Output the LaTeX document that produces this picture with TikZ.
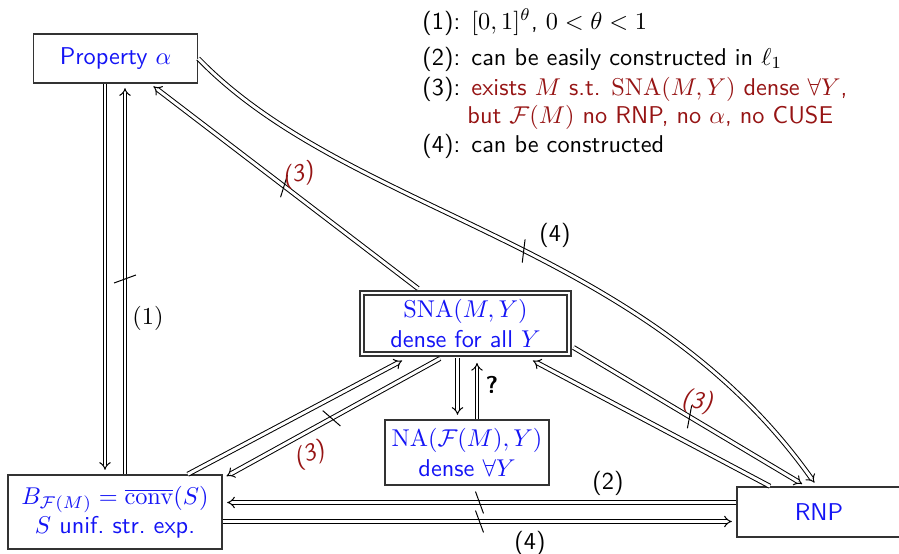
\documentclass[tikz,border=0pt]{standalone}
\renewcommand{\familydefault}{\sfdefault}
\usetikzlibrary{arrows.meta,calc,decorations.markings}
\definecolor{dred}{RGB}{150,20,20}
\definecolor{nblue}{RGB}{20,20,245}
\def\px{0.4115pt}
\begin{document}
\begin{tikzpicture}[x=0.4115pt, y=-0.4115pt,
  box/.style={draw=black!80, line width=0.58pt, text=nblue, align=center, inner sep=0pt},
  imp/.style={double, double distance=1.23pt, line width=0.41pt, -{Implies}, shorten >=1.8pt},
  notm/.style={decorate, decoration={markings, mark=at position 0.5 with {\draw[line width=0.41pt] (-1.65pt,4.5pt) -- (1.65pt,-4.5pt);}}},
  nlab/.style={text=dred, font=\sffamily\itshape},
  leg/.style={anchor=base west, inner sep=0pt}]
\useasboundingbox (0,0) rectangle (899,554);

% nodes
\node[box, minimum width=164*\px, minimum height=49*\px] (prop) at (115.5,58.5) {Property $\alpha$};
\node[box, double, line width=0.82pt, double distance=1.23pt, minimum width=207*\px, minimum height=61*\px] (sna) at (465.5,323.5) {$\mathrm{SNA}(M,Y)$\\dense for all $Y$};
\node[box, minimum width=164*\px, minimum height=65*\px] (na) at (467,452.5) {$\mathrm{NA}(\mathcal{F}(M),Y)$\\dense $\forall Y$};
\node[box, minimum width=214*\px, minimum height=74*\px] (b) at (115,512) {$B_{\mathcal{F}(M)}=\overline{\mathrm{conv}}(S)$\\$S$ unif.\ str.\ exp.};
\node[box, minimum width=164*\px, minimum height=50*\px] (rnp) at (819,512) {RNP};

% endpoints
\coordinate (pb1) at ($(prop.south)+(-10.5,0)$);
\coordinate (pb2) at ($(b.north)+(-10,0)$);
\coordinate (bp1) at ($(b.north)+(10,0)$);
\coordinate (bp2) at ($(prop.south)+(9.5,0)$);
\coordinate (sp1) at ($(sna.north)+(-47.5,-3.5)$);
\coordinate (sp2) at ($(prop.south)+(34.5,0)$);
\coordinate (sb1) at ($(sna.south)+(-25.5,3.5)$);
\coordinate (sb2) at ($(b.north east)+(0,4)$);
\coordinate (bs1) at ($(b.north east)+(-35,0)$);
\coordinate (bs2) at ($(sna.south)+(-59.5,3.5)$);
\coordinate (sr1) at ($(sna.east)+(3.5,24)$);
\coordinate (sr2) at ($(rnp.north)+(-13,0)$);
\coordinate (rs1) at ($(rnp.north)+(-49,0)$);
\coordinate (rs2) at ($(sna.south)+(63.5,3.5)$);
\coordinate (sn1) at ($(sna.south)+(-8,3.5)$);
\coordinate (sn2) at ($(na.north)+(-9.5,0)$);
\coordinate (ns1) at ($(na.north)+(10,0)$);
\coordinate (ns2) at ($(sna.south)+(11.5,3.5)$);
\coordinate (rb1) at ($(rnp.west)+(0,-9.5)$);
\coordinate (rb2) at ($(b.east)+(0,-9.5)$);
\coordinate (br1) at ($(b.east)+(0,9.5)$);
\coordinate (br2) at ($(rnp.west)+(0,9.5)$);
\coordinate (pr2) at ($(rnp.north)+(-2,0)$);

% arrows
\draw[imp] (pb1) -- (pb2);
\draw[imp] (bp1) -- (bp2);
\path[notm] (bp1) -- (bp2);
\draw[imp] (sp1) -- (sp2);
\path[notm] (sp1) -- (sp2);
\draw[imp] (prop.east) .. controls (350,215) and (643,240) .. (pr2);
\path[notm] (prop.east) .. controls (350,215) and (643,240) .. (pr2);
\draw[imp] (bs1) -- (bs2);
\draw[imp] (sb1) -- (sb2);
\path[notm] (sb1) -- (sb2);
\draw[imp] (rs1) -- (rs2);
\draw[imp] (sr1) -- (sr2);
\path[notm] (sr1) -- (sr2);
\draw[imp] (sn1) -- (sn2);
\draw[imp] (ns1) -- (ns2);
\draw[imp] (rb1) -- (rb2);
\path[notm] (rb1) -- (rb2);
\draw[imp] (br1) -- (br2);
\path[notm] (br1) -- (br2);

% labels
\node[font=\rmfamily] (l1) at (148,318) {(1)};
\node[nlab, rotate=12] (l3a) at (298,175) {(3)};
\node[nlab, rotate=20] (l3b) at (310,455) {(3)};
\node[nlab, rotate=-8] (l3c) at (697,402) {(3)};
\node (l4a) at (555,235) {(4)};
\node (l2) at (608,483) {(2)};
\node (l4b) at (530,543) {(4)};
\node[font=\sffamily\bfseries] (lq) at (492,385) {?};

% legend
\node[leg] (k1) at (422,29) {(1):};
\node[leg] (t1) at (471,29) {$[0,1]^\theta$, $0<\theta<1$};
\node[leg] (k2) at (422,65) {(2):};
\node[leg] (t2) at (471,65) {can be easily constructed in $\ell_1$};
\node[leg] (k3) at (422,95) {(3):};
\node[leg, text=dred] (t3) at (471,95) {exists $M$ s.t. $\mathrm{SNA}(M,Y)$ dense $\forall Y$,};
\node[leg, text=dred] (t3b) at (467,123) {but $\mathcal{F}(M)$ no RNP, no $\alpha$, no CUSE};
\node[leg] (k4) at (422,152) {(4):};
\node[leg] (t4) at (471,152) {can be constructed};
\end{tikzpicture}
\end{document}
